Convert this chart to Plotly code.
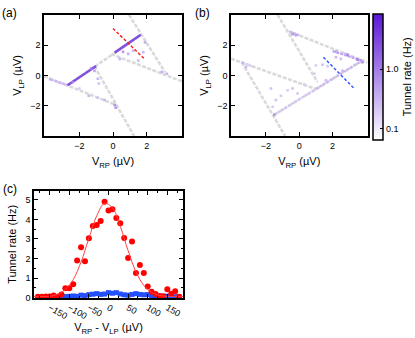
import numpy as np
import plotly.graph_objects as go

# ---------------- data ----------------
# panel (a): boundary lines (V_RP, V_LP) in µV, segments separated by None
a_gray_x = [-4.1, 0.2, None, -1.1, 1.25, None, -2.7, 1.7, None, 0.95, 3.1, None, -0.1, 4.1]
a_gray_y = [-0.05, -1.96, None, 0.6, -4.0, None, -0.65, 2.7, None, 4.0, 0.2, None, 1.4, -0.4]
# dense tunnelling segments (x0, x1), (y0, y1), rate Hz
a_seg_x = [(-3.7, -2.7), (-2.7, -1.0), (0.1, 1.65)]
a_seg_y = [(-0.28, -0.65), (-0.65, 0.62), (1.5, 2.68)]
a_seg_rate = [0.3, 2.6, 2.6]
# scattered events
a_dot_x = [-0.9, -0.84, -2.0, -1.44, -0.9, -0.5, 0.1, 0.16, -3.74, -3.2, 0.4, 0.9, 1.2, 1.5, 1.8, 1.9, 2.9, 3.2, -1.3, -2.4, -1.1, 0.6]
a_dot_y = [-0.22, -0.54, -0.87, -1.35, -1.48, -1.63, -1.96, -2.13, -0.26, -0.48, 1.09, 1.42, 1.63, 0.98, 1.53, 2.18, 0.22, 0.11, 0.45, -0.45, 0.3, 1.55]
a_dot_rate = [0.3, 0.25, 0.2, 0.3, 0.25, 0.3, 0.6, 0.5, 0.3, 0.25, 0.3, 0.35, 0.3, 0.3, 0.3, 0.35, 0.4, 0.3, 0.9, 0.8, 0.4, 0.5]
a_cut_x = [0.0, 1.9]
a_cut_y = [3.1, 1.05]

# panel (b)
b_gray_x = [-1.3, 1.1, None, -0.6, 4.1, None, -1.5, 3.85, None, -4.1, 1.0, None, -3.45, -0.85]
b_gray_y = [4.0, -0.45, None, 2.9, 0.85, None, -2.6, 1.0, None, 1.1, -0.9, None, 0.85, -4.0]
b_seg_x = [(-1.5, 1.0), (1.0, 3.8), (-0.6, 0.0), (2.0, 3.85), (-3.45, -2.7)]
b_seg_y = [(-2.6, -0.9), (-0.9, 1.0), (2.9, 2.65), (1.6, 0.95), (0.85, 0.55)]
b_seg_rate = [0.22, 0.3, 0.3, 0.45, 0.18]
b_dot_x = [-1.7, -1.6, -1.4, -1.1, -0.4, -0.1, -0.7, 1.0, 1.4, 1.7, 0.9, 1.6, 2.2, 2.5, 2.76, -0.4, -0.2, 2.2, 2.9, 3.5, 3.8, -3.2, -3.4, -1.5, 2.6, 0.3]
b_dot_y = [-0.87, -2.07, -1.63, -1.35, -0.87, -1.2, -0.98, 0.65, 0.7, 0.61, 0.11, -0.33, 1.2, 1.09, 1.41, 2.72, 2.65, 1.57, 1.35, 1.04, 0.87, 0.55, 0.83, -2.6, 0.3, -0.6]
b_dot_rate = [0.25, 0.2, 0.25, 0.2, 0.25, 0.2, 0.2, 0.2, 0.25, 0.2, 0.2, 0.25, 0.3, 0.25, 0.3, 0.6, 0.5, 0.4, 0.8, 0.9, 0.6, 0.3, 0.3, 0.6, 0.3, 0.2]
b_cut_x = [1.45, 3.3]
b_cut_y = [1.2, -0.87]

# panel (c)
c_red_x = [-180, -170, -160, -150, -140, -130, -120, -110, -100, -90, -80, -70, -60, -50, -40, -30, -20, -10,
           0, 10, 20, 30, 40, 50, 60, 70, 80, 90, 100, 110, 120, 130, 140, 150, 160, 170, 180]
c_red_y = [0.04, 0.04, 0.05, 0.05, 0.1, 0.04, 0.15, 0.47, 0.48, 0.68, 1.9, 2.57, 1.86, 3.04, 3.67, 3.72, 3.92, 4.9,
           4.46, 4.52, 4.07, 3.8, 3.05, 2.02, 2.87, 1.26, 1.66, 1.26, 0.56, 0.3, 0.18, 0.08, 0.07, 0.42, 0.2, 0.32, 0.04]
c_blue_x = [-120, -110, -100, -90, -80, -70, -60, -50, -40, -30, -20, -10, 0, 10, 20, 30, 40, 50, 60, 70,
            80, 90, 100, 110, 120, 130, 140, 150, 160, 170, 180]
c_blue_y = [0.03, 0.05, 0.06, 0.08, 0.06, 0.12, 0.1, 0.15, 0.17, 0.2, 0.16, 0.18, 0.25, 0.22, 0.25, 0.18, 0.14, 0.12,
            0.16, 0.2, 0.16, 0.14, 0.15, 0.1, 0.1, 0.08, 0.06, 0.07, 0.05, 0.04, 0.03]
c_fit_x = [-190, -170, -150, -130, -110, -90, -70, -50, -30, -10, 10, 30, 50, 70, 90, 110, 130, 150, 170, 190]
c_fit_y = [0.05, 0.05, 0.06, 0.17, 0.41, 0.92, 1.82, 3.03, 4.19, 4.82, 4.6, 3.65, 2.4, 1.32, 0.62, 0.26, 0.11, 0.06, 0.05, 0.05]

cbar_ticks = [0.1, 1.0]
cbar_ticktext = ["0.1", "1.0"]

# ---------------- style ----------------
W, H = 415, 338
FONT = "Liberation Sans, Arial, sans-serif"
PURPLE = (91, 23, 214)
CMIN, CMAX = np.log10(0.065), np.log10(8.5)
cscale = [[0, "#ffffff"], [1, "rgb(%d,%d,%d)" % PURPLE]]
GRAY = "#dadada"


def rate_color(r):
    t = (np.log10(r) - CMIN) / (CMAX - CMIN)
    t = min(max(t, 0), 1)
    c = [round(255 * (1 - t) + p * t) for p in PURPLE]
    return "rgb(%d,%d,%d)" % tuple(c)


fig = go.Figure()


def add_map(xa, ya, gx, gy, sx, sy, sr, dx, dy, dr, cx, cy, ccol, showscale):
    fig.add_trace(go.Scatter(x=gx, y=gy, mode="lines", xaxis=xa, yaxis=ya,
                             line=dict(color=GRAY, width=2.6, dash="4px,1.5px"), hoverinfo="skip"))
    for (x0, x1), (y0, y1), r in zip(sx, sy, sr):
        dash = "solid" if r > 1 else "3px,1px"
        fig.add_trace(go.Scatter(x=[x0, x1], y=[y0, y1], mode="lines", xaxis=xa, yaxis=ya,
                                 line=dict(color=rate_color(r), width=2.6 if r > 1 else 2.2, dash=dash)))
    fig.add_trace(go.Scatter(
        x=dx, y=dy, mode="markers", xaxis=xa, yaxis=ya,
        marker=dict(symbol="square", size=2.6, color=np.log10(dr), colorscale=cscale,
                    cmin=CMIN, cmax=CMAX, showscale=showscale,
                    colorbar=dict(
                        x=373 / W, xanchor="left", xpad=0, y=1 - 14 / H, yanchor="top", ypad=0,
                        lenmode="pixels", len=126, thickness=10,
                        outlinewidth=1.5, outlinecolor="black",
                        tickvals=[np.log10(v) for v in cbar_ticks],
                        ticktext=cbar_ticktext,
                        ticks="inside", ticklen=3, tickcolor="black", tickwidth=1,
                        tickfont=dict(size=9, family=FONT, color="black"),
                        title=dict(text="Tunnel rate (Hz)", side="right",
                                   font=dict(size=11, family=FONT, color="black")),
                    ) if showscale else None)))
    fig.add_trace(go.Scatter(x=cx, y=cy, mode="lines", xaxis=xa, yaxis=ya,
                             line=dict(color=ccol, width=1.4, dash="3px,2px")))


add_map("x", "y", a_gray_x, a_gray_y, a_seg_x, a_seg_y, a_seg_rate, a_dot_x, a_dot_y, a_dot_rate,
        a_cut_x, a_cut_y, "#ff1a1a", False)
add_map("x2", "y2", b_gray_x, b_gray_y, b_seg_x, b_seg_y, b_seg_rate, b_dot_x, b_dot_y, b_dot_rate,
        b_cut_x, b_cut_y, "#2a55ff", True)

fig.add_trace(go.Scatter(x=c_blue_x, y=c_blue_y, mode="markers", xaxis="x3", yaxis="y3", cliponaxis=False,
                         marker=dict(symbol="square", size=5, color="#2350ff")))
fig.add_trace(go.Scatter(x=c_red_x, y=c_red_y, mode="markers", xaxis="x3", yaxis="y3", cliponaxis=False,
                         marker=dict(symbol="circle", size=6, color="#ff0000")))
fig.add_trace(go.Scatter(x=c_fit_x, y=c_fit_y, mode="lines", xaxis="x3", yaxis="y3",
                         line=dict(color="#ff4040", width=1, shape="spline", smoothing=1.0)))

axis_common = dict(showline=True, linecolor="black", linewidth=1.5, mirror="ticks", ticks="inside",
                   ticklen=4, tickcolor="black", showgrid=False, zeroline=False,
                   tickfont=dict(size=9, family=FONT, color="black"))
tfont = dict(size=11, family=FONT, color="black")

ya_dom = [1 - 138 / H, 1 - 15 / H]
fig.update_layout(
    width=W, height=H, margin=dict(l=0, r=0, t=0, b=0),
    paper_bgcolor="white", plot_bgcolor="white", showlegend=False,
    font=dict(family=FONT, color="black"),
    xaxis=dict(domain=[44 / W, 182 / W], range=[-4.1, 4.1], tickvals=[-2, 0, 2], anchor="y",
               title=dict(text="V<sub>RP</sub> (µV)", font=tfont, standoff=8), **axis_common),
    yaxis=dict(domain=ya_dom, range=[-4, 4], tickvals=[-2, 0, 2], anchor="x",
               title=dict(text="V<sub>LP</sub> (µV)", font=tfont, standoff=6), **axis_common),
    xaxis2=dict(domain=[231 / W, 367.5 / W], range=[-4.1, 4.1], tickvals=[-2, 0, 2], anchor="y2",
                title=dict(text="V<sub>RP</sub> (µV)", font=tfont, standoff=8), **axis_common),
    yaxis2=dict(domain=ya_dom, range=[-4, 4], tickvals=[-2, 0, 2], anchor="x2",
                title=dict(text="V<sub>LP</sub> (µV)", font=tfont, standoff=6), **axis_common),
    xaxis3=dict(domain=[34 / W, 183 / W], range=[-190, 190], tickvals=[-150, -100, -50, 0, 50, 100, 150],
                anchor="y3", minor=dict(dtick=25, ticks="inside", ticklen=2, tickcolor="black"),
                title=dict(text="V<sub>RP</sub> - V<sub>LP</sub> (µV)", font=tfont, standoff=0), **axis_common),
    yaxis3=dict(domain=[1 - 302 / H, 1 - 194 / H], range=[0, 5.45], tickvals=[0, 1, 2, 3, 4, 5],
                anchor="x3", minor=dict(dtick=0.5, ticks="inside", ticklen=2, tickcolor="black"),
                title=dict(text="Tunnel rate (Hz)", font=tfont, standoff=7), **axis_common),
    annotations=[
        dict(text="(a)", x=0, y=1 - 4 / H, xref="paper", yref="paper", xanchor="left", yanchor="top",
             showarrow=False, font=dict(size=12, family=FONT)),
        dict(text="(b)", x=193 / W, y=1 - 4 / H, xref="paper", yref="paper", xanchor="left", yanchor="top",
             showarrow=False, font=dict(size=12, family=FONT)),
        dict(text="(c)", x=1 / W, y=1 - 183 / H, xref="paper", yref="paper", xanchor="left", yanchor="top",
             showarrow=False, font=dict(size=12, family=FONT)),
    ],
)

fig.write_html("out.html", config={"displayModeBar": False},
               post_script="document.body.style.margin='0px';")
